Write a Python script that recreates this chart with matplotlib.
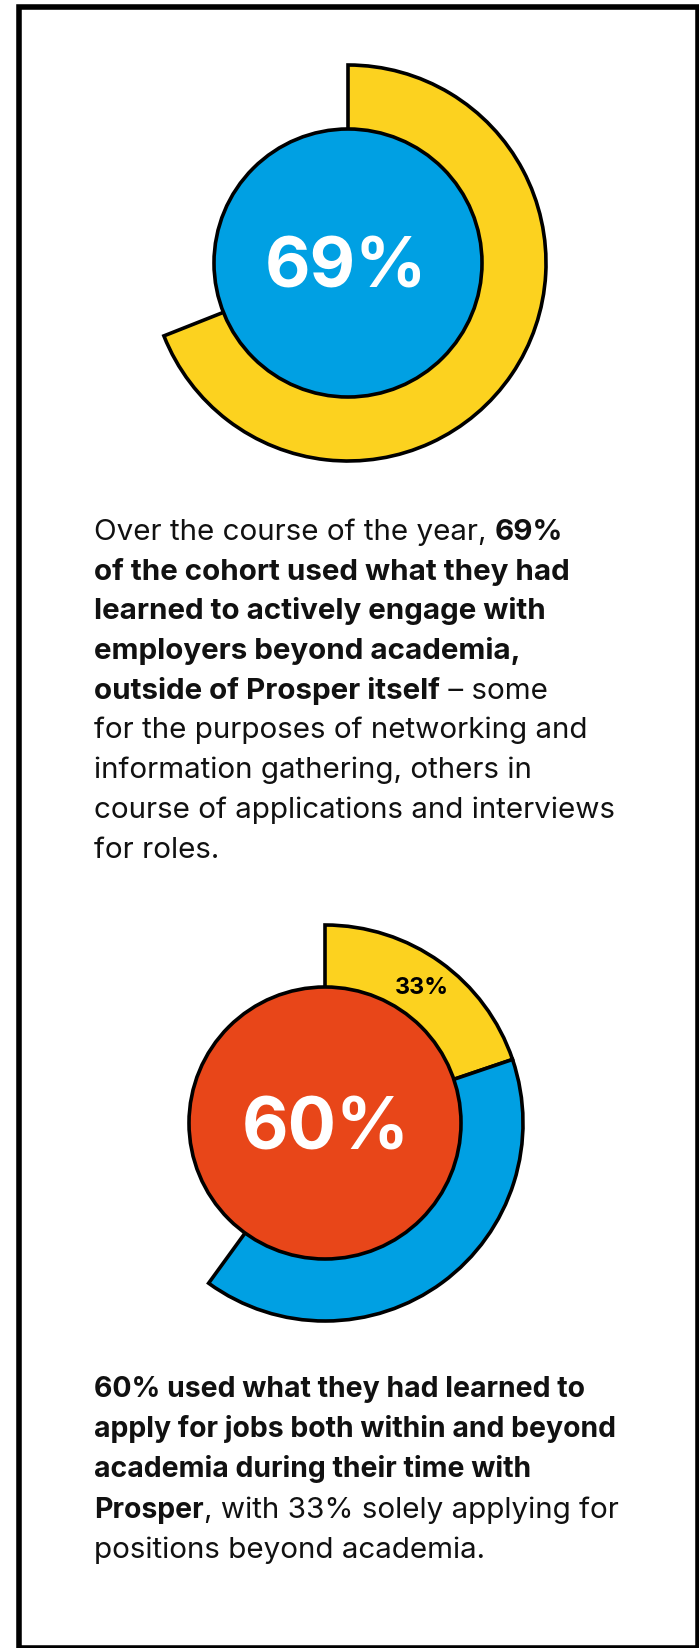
import matplotlib
matplotlib.use("Agg")
import matplotlib.pyplot as plt
from matplotlib.patches import Circle, Rectangle
import numpy as np

# ---------------- data ----------------
chart1_value = 69            # % engaging with employers beyond academia
chart1_label = "69%"
chart2_total = 60            # % applying for jobs
chart2_beyond_share = 33     # % of those solely beyond academia
chart2_label = "60%"
chart2_sub_label = "33%"

para1 = [
    [("Over the course of the year, ", False), ("69%", True)],
    [("of the cohort used what they had", True)],
    [("learned to actively engage with", True)],
    [("employers beyond academia,", True)],
    [("outside of Prosper itself", True), (" \u2013 some", False)],
    [("for the purposes of networking and", False)],
    [("information gathering, others in", False)],
    [("course of applications and interviews", False)],
    [("for roles.", False)],
]
para2 = [
    [("60% used what they had learned to", True)],
    [("apply for jobs both within and beyond", True)],
    [("academia during their time with", True)],
    [("Prosper", True), (", with 33% solely applying for", False)],
    [("positions beyond academia.", False)],
]

YELLOW = "#FCD21F"
BLUE = "#00A0E3"
ORANGE = "#E84619"
FAMILY = ["Inter", "DejaVu Sans"]

W, H = 699, 1649
fig = plt.figure(figsize=(W / 100, H / 100), dpi=100)
ax = fig.add_axes([0, 0, 1, 1])
renderer = fig.canvas.get_renderer()


def Y(py):
    return H - py


def text_w(s, size, weight):
    t = fig.text(0, 0, "x" + s + "x", fontsize=size, fontweight=weight, family=FAMILY)
    t2 = fig.text(0, 0, "xx", fontsize=size, fontweight=weight, family=FAMILY)
    w = t.get_window_extent(renderer).width - t2.get_window_extent(renderer).width
    t.remove(); t2.remove()
    return w


def fit_size(s, target, weight):
    w = text_w(s, 20, weight)
    return 20 * target / w


LW = 2.6

# ---------------- chart 1 ----------------
c1 = (348, Y(264))
R_OUT, R_IN = 198, 134
w1, _ = ax.pie([chart1_value, 100 - chart1_value], startangle=90, counterclock=False,
               radius=R_OUT, center=c1, colors=[YELLOW, "none"],
               wedgeprops=dict(width=R_OUT - R_IN + 4, edgecolor="black", linewidth=LW))
w1[1].set_visible(False)
ax.add_patch(Circle(c1, R_IN, facecolor=BLUE, edgecolor="black", linewidth=LW, zorder=3))
big1 = fit_size(chart1_label, 162, "bold")
ax.text(346, Y(288), chart1_label, ha="center", va="baseline", color="white",
        fontsize=big1, fontweight="bold", family=FAMILY, zorder=4)

# ---------------- chart 2 ----------------
c2 = (325, Y(1124))
R2_IN = 136
yellow_part = chart2_total * chart2_beyond_share / 100
blue_part = chart2_total - yellow_part
w2, _ = ax.pie([yellow_part, blue_part, 100 - chart2_total], startangle=90, counterclock=False,
               radius=R_OUT, center=c2, colors=[YELLOW, BLUE, "none"],
               wedgeprops=dict(width=R_OUT - R2_IN + 4, edgecolor="black", linewidth=LW))
w2[2].set_visible(False)
ax.add_patch(Circle(c2, R2_IN, facecolor=ORANGE, edgecolor="black", linewidth=LW, zorder=3))
big2 = fit_size(chart2_label, 168, "bold")
ax.text(326, Y(1150), chart2_label, ha="center", va="baseline", color="white",
        fontsize=big2, fontweight="bold", family=FAMILY, zorder=4)

mid_ang = np.deg2rad(90 - 360 * yellow_part / 100 / 2)
r_mid = (R_OUT + R2_IN) / 2
sub_size = fit_size(chart2_sub_label, 54, "bold")
ax.text(c2[0] + r_mid * np.cos(mid_ang), c2[1] + r_mid * np.sin(mid_ang),
        chart2_sub_label, ha="center", va="center", color="black",
        fontsize=sub_size, fontweight="bold", family=FAMILY, zorder=4)

# ---------------- paragraphs ----------------
body_size = (fit_size("of the cohort used what they had", 478, "bold") +
             fit_size("for the purposes of networking and", 493, "normal")) / 2
bold2_size = fit_size("apply for jobs both within and beyond", 524, "bold")


def draw_para(lines, x0, base0, step, bsize):
    for i, segs in enumerate(lines):
        x = x0
        y = Y(base0 + i * step)
        for s, b in segs:
            wt = "bold" if b else "normal"
            sz = bsize if b else body_size
            ax.text(x, y, s, ha="left", va="baseline", fontsize=sz,
                    fontweight=wt, family=FAMILY, color="#111111")
            x += text_w(s, sz, wt)


draw_para(para1, 94, 540, 39.7, body_size)
draw_para(para2, 94, 1397, 40.2, bold2_size)

# ---------------- frame ----------------
ax.add_patch(Rectangle((18.5, Y(1648.5)), 698 - 18.5, 1648.5 - 8, fill=False,
                       edgecolor="black", linewidth=4.0, zorder=5))

ax.set_xlim(0, W)
ax.set_ylim(0, H)
ax.set_aspect("auto")
ax.axis("off")
fig.savefig("out.png", dpi=100)
